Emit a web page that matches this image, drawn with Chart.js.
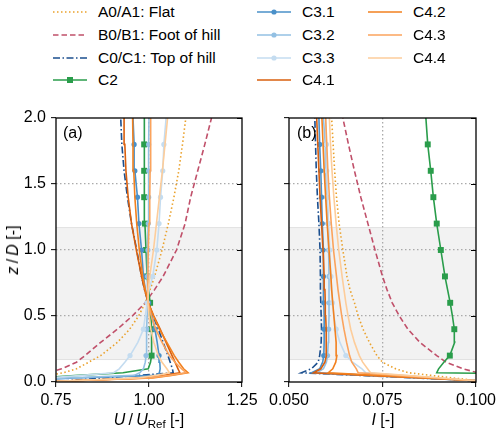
<!DOCTYPE html>
<html>
<head>
<meta charset="utf-8">
<script src="https://cdn.jsdelivr.net/npm/chart.js@4.4.1/dist/chart.umd.min.js"></script>
<style>
  body { margin: 0; background: #fff; font-family: "Liberation Sans", Arial, sans-serif; color: #000; }
  #wrap { position: relative; width: 500px; height: 432px; overflow: hidden; }
  canvas { position: absolute; }
  .lg { position: absolute; font-size: 15.5px; line-height: 18px; white-space: nowrap; }
  .lg svg { position: absolute; top: 4px; }
  .txt { position: absolute; font-size: 16px; white-space: nowrap; }
  .txt sub { font-size: 11.5px; vertical-align: -3px; }
</style>
</head>
<body>
<div id="wrap">
  <canvas id="chartA" width="270" height="332" style="left:0;top:100px"></canvas>
  <canvas id="chartB" width="250" height="332" style="left:250px;top:100px"></canvas>
  <div class="txt" style="left:63px;top:124px">(a)</div>
  <div class="txt" style="left:297px;top:124px">(b)</div>
  <div class="txt" style="left:13px;top:250px;transform:translate(-50%,-50%) rotate(-90deg)"><i>z</i>&thinsp;/&thinsp;<i>D</i> [-]</div>
  <div class="txt" style="left:149px;top:420px;transform:translate(-50%,-50%)"><i>U</i>&thinsp;/&thinsp;<i>U</i><sub>Ref</sub> [-]</div>
  <div class="txt" style="left:383px;top:420px;transform:translate(-50%,-50%)"><i>I</i> [-]</div>
  <div id="legend"></div>
</div>
<script>
// heights z/D shared by all profiles
const Z = [0, 0.03, 0.05, 0.07, 0.1, 0.15, 0.2, 0.3, 0.4, 0.5, 0.6, 0.7, 0.8, 1.0, 1.2, 1.4, 1.6, 1.8, 2.0];
const MARKER_Z = [0.2, 0.4, 0.6, 0.8, 1.0, 1.2, 1.4, 1.6, 1.8];
const ROTOR_Z = [0.17, 1.17];

const Z_TICKS = [0, 0.5, 1.0, 1.5, 2.0];
const U_TICKS = [0.75, 1.0, 1.25];
const I_TICKS = [0.05, 0.075, 0.1];

// (a) U/U_ref
const U_A0 = [0.55, 0.68, 0.73, 0.77, 0.805, 0.838, 0.87, 0.915, 0.948, 0.972, 0.99, 1.003, 1.015, 1.035, 1.052, 1.067, 1.08, 1.09, 1.099];
const U_B0 = [0.5, 0.64, 0.69, 0.73, 0.765, 0.805, 0.828, 0.87, 0.915, 0.955, 0.99, 1.015, 1.038, 1.074, 1.097, 1.112, 1.131, 1.15, 1.168];
const U_C0 = [0.73, 0.877, 0.97, 1.065, 1.063, 1.057, 1.051, 1.038, 1.025, 1.011, 0.998, 0.988, 0.98, 0.967, 0.953, 0.942, 0.933, 0.927, 0.924];
const U_C2 = [0.52, 0.69, 0.81, 0.93, 0.998, 1.004, 1.007, 1.007, 1.007, 1.005, 1.003, 0.999, 0.995, 0.992, 0.989, 0.987, 0.987, 0.987, 0.989];
const U_C31 = [0.55, 0.80, 1.02, 1.028, 1.03, 1.029, 1.027, 1.022, 1.016, 1.008, 0.999, 0.99, 0.985, 0.98, 0.973, 0.969, 0.962, 0.96, 0.957];
const U_C32 = [0.5, 0.78, 0.96, 0.975, 0.985, 0.99, 0.992, 0.993, 0.994, 0.995, 0.995, 0.995, 0.996, 0.997, 0.998, 0.999, 0.999, 0.999, 1.0];
const U_C33 = [0.5, 0.72, 0.82, 0.905, 0.92, 0.935, 0.949, 0.97, 0.985, 0.99, 0.995, 1.0, 1.01, 1.021, 1.027, 1.031, 1.037, 1.04, 1.046];
const U_C41 = [0.70, 0.99, 1.04, 1.083, 1.078, 1.07, 1.062, 1.046, 1.03, 1.013, 0.998, 0.988, 0.98, 0.966, 0.953, 0.944, 0.938, 0.935, 0.933];
const U_C42 = [0.70, 1.01, 1.06, 1.105, 1.093, 1.08, 1.068, 1.048, 1.028, 1.012, 0.998, 0.99, 0.983, 0.974, 0.967, 0.962, 0.959, 0.957, 0.956];
const U_C43 = [0.70, 1.0, 1.055, 1.10, 1.088, 1.07, 1.055, 1.035, 1.018, 1.006, 0.998, 0.997, 0.997, 0.998, 1.0, 1.002, 1.003, 1.004, 1.005];
const U_C44 = [0.70, 0.97, 1.02, 1.055, 1.048, 1.035, 1.025, 1.013, 1.005, 1.0, 0.997, 0.998, 1.002, 1.012, 1.02, 1.028, 1.036, 1.043, 1.05];

// (b) turbulence intensity I
const I_A0 = [0.104, 0.094, 0.088, 0.082, 0.0785, 0.075, 0.0735, 0.0715, 0.0698, 0.0685, 0.0675, 0.0663, 0.0655, 0.0644, 0.0634, 0.0627, 0.0622, 0.0618, 0.0614];
const I_B0 = [0.13, 0.118, 0.107, 0.1005, 0.0965, 0.092, 0.0895, 0.085, 0.0818, 0.0795, 0.0776, 0.0762, 0.075, 0.073, 0.0711, 0.0692, 0.0675, 0.0659, 0.0644];
const I_C0 = [0.1078, 0.0844, 0.0689, 0.0533, 0.056, 0.0578, 0.0582, 0.0586, 0.0587, 0.0586, 0.0585, 0.0584, 0.0584, 0.0583, 0.058, 0.0576, 0.0573, 0.0571, 0.0569];
const I_C2 = [0.18, 0.16, 0.14, 0.0895, 0.090, 0.0914, 0.093, 0.0943, 0.0942, 0.0937, 0.0931, 0.0924, 0.0917, 0.0906, 0.0895, 0.0886, 0.0879, 0.0871, 0.0866];
const I_C31 = [0.1073, 0.0853, 0.0707, 0.056, 0.0582, 0.059, 0.0593, 0.0594, 0.0594, 0.0594, 0.0593, 0.0593, 0.0592, 0.0591, 0.0589, 0.0587, 0.0585, 0.0582, 0.058];
const I_C32 = [0.107, 0.0858, 0.0717, 0.0575, 0.0592, 0.06, 0.0603, 0.0605, 0.0606, 0.0607, 0.0607, 0.0607, 0.0607, 0.0606, 0.0604, 0.0601, 0.0598, 0.0597, 0.0592];
const I_C33 = [0.1048, 0.0901, 0.0803, 0.0705, 0.0695, 0.067, 0.0652, 0.0636, 0.0626, 0.062, 0.0616, 0.0614, 0.0612, 0.0609, 0.0606, 0.0603, 0.0601, 0.06, 0.0598];
const I_C41 = [0.1072, 0.0855, 0.0711, 0.0566, 0.0585, 0.0596, 0.06, 0.06, 0.0599, 0.0598, 0.0597, 0.0596, 0.0594, 0.0591, 0.0587, 0.0583, 0.058, 0.0577, 0.0574];
const I_C42 = [0.1066, 0.0868, 0.0737, 0.0605, 0.0617, 0.0625, 0.0628, 0.0626, 0.0623, 0.062, 0.0617, 0.0614, 0.0612, 0.0607, 0.0602, 0.0598, 0.0594, 0.0591, 0.0588];
const I_C43 = [0.1052, 0.0895, 0.079, 0.0685, 0.068, 0.0668, 0.0662, 0.0654, 0.0647, 0.0641, 0.0636, 0.0631, 0.0627, 0.0619, 0.0613, 0.0608, 0.0604, 0.0601, 0.0598];
const I_C44 = [0.1047, 0.0906, 0.0812, 0.0718, 0.071, 0.0697, 0.0688, 0.0675, 0.0665, 0.0658, 0.0652, 0.0647, 0.0642, 0.0633, 0.0626, 0.062, 0.0615, 0.0611, 0.0608];

const SERIES = [
  { label: "A0/A1: Flat", u: U_A0, i: I_A0, color: "#eaa12b", dash: "dotted" },
  { label: "B0/B1: Foot of hill", u: U_B0, i: I_B0, color: "#c0506a", dash: "dashed" },
  { label: "C0/C1: Top of hill", u: U_C0, i: I_C0, color: "#1b4f8f", dash: "dashdot" },
  { label: "C2", u: U_C2, i: I_C2, color: "#2a9d4b", dash: "solid", marker: "rect" },
  { label: "C3.1", u: U_C31, i: I_C31, color: "#4a90c9", dash: "solid", marker: "circle" },
  { label: "C3.2", u: U_C32, i: I_C32, color: "#93c0e3", dash: "solid", marker: "circle" },
  { label: "C3.3", u: U_C33, i: I_C33, color: "#c4dcf0", dash: "solid", marker: "circle" },
  { label: "C4.1", u: U_C41, i: I_C41, color: "#d95f0e", dash: "solid" },
  { label: "C4.2", u: U_C42, i: I_C42, color: "#f2811f", dash: "solid" },
  { label: "C4.3", u: U_C43, i: I_C43, color: "#fba35c", dash: "solid" },
  { label: "C4.4", u: U_C44, i: I_C44, color: "#fdcd9b", dash: "solid" },
];

const DASH = { dotted: [1.5, 2.5], dashed: [5.5, 3], dashdot: [7, 2.5, 1.5, 2.5], solid: [] };

Chart.defaults.font.family = "'Liberation Sans', Arial, sans-serif";
Chart.defaults.font.size = 16;
Chart.defaults.color = "#000";

const isMarker = (z) => MARKER_Z.some(m => Math.abs(m - z) < 1e-9);

function makeDatasets(key) {
  // later series drawn on top, like the plotting order of the original
  return SERIES.map((s, k) => ({
    label: s.label,
    data: Z.map((z, j) => ({ x: s[key][j], y: z })),
    showLine: true,
    borderColor: s.color,
    backgroundColor: s.color,
    borderWidth: 1.6,
    borderDash: DASH[s.dash],
    tension: 0,
    order: SERIES.length - k,
    pointStyle: s.marker || "circle",
    pointRadius: s.marker ? (c => isMarker(c.raw.y) ? (s.marker === "rect" ? 4.2 : 2.6) : 0) : 0,
    pointBorderWidth: 0,
    pointBackgroundColor: s.color,
    clip: 0,
  }));
}

const frame = {
  id: "frame",
  beforeDraw(chart) {
    const { ctx, chartArea: a, scales } = chart;
    const y1 = scales.y.getPixelForValue(ROTOR_Z[1]);
    const y0 = scales.y.getPixelForValue(ROTOR_Z[0]);
    ctx.save();
    ctx.fillStyle = "#f2f2f2";
    ctx.fillRect(a.left, y1, a.right - a.left, y0 - y1);
    ctx.strokeStyle = "#e2e2e2";
    ctx.lineWidth = 1;
    ctx.beginPath();
    ctx.moveTo(a.left, y1); ctx.lineTo(a.right, y1);
    ctx.moveTo(a.left, y0); ctx.lineTo(a.right, y0);
    ctx.stroke();
    ctx.restore();
  },
  afterDraw(chart) {
    const { ctx, chartArea: a, scales } = chart;
    ctx.save();
    ctx.strokeStyle = "#000";
    ctx.lineWidth = 1;
    ctx.beginPath();
    Z_TICKS.forEach(v => {
      const y = Math.round(scales.y.getPixelForValue(v)) + 0.5;
      ctx.moveTo(a.right - 5, y); ctx.lineTo(a.right, y);
    });
    ctx.stroke();
    ctx.lineWidth = 1.3;
    ctx.strokeRect(a.left, a.top, a.right - a.left, a.bottom - a.top);
    ctx.restore();
  }
};

function makeChart(id, key, xmin, xmax, xticks, digits, gridAt, showYLabels, leftW, rightPad) {
  const fixScale = (w, h) => (scale) => {
    if (w != null) scale.width = w;
    if (h != null) scale.height = h;
    scale.paddingLeft = 0; scale.paddingRight = 0;
    scale.paddingTop = 0; scale.paddingBottom = 0;
  };
  return new Chart(document.getElementById(id), {
    type: "scatter",
    data: { datasets: makeDatasets(key) },
    plugins: [frame],
    options: {
      responsive: false,
      animation: false,
      events: [],
      layout: { padding: { top: 18, right: rightPad, left: 0, bottom: 0 } },
      plugins: { legend: { display: false }, tooltip: { enabled: false } },
      scales: {
        x: {
          type: "linear", min: xmin, max: xmax,
          afterBuildTicks: (s) => { s.ticks = xticks.map(v => ({ value: v })); },
          afterFit: fixScale(null, 50),
          ticks: { padding: 4, maxRotation: 0, autoSkip: false, callback: v => v.toFixed(digits) },
          grid: {
            color: c => (c.tick && Math.abs(c.tick.value - gridAt) < 1e-9) ? "#aaaaaa" : "rgba(0,0,0,0)",
            lineWidth: 1.3, tickLength: 5, tickColor: "#000", tickWidth: 1,
          },
          border: { display: false, dash: [1.5, 2.5] },
        },
        y: {
          type: "linear", min: 0, max: 2,
          afterBuildTicks: (s) => { s.ticks = Z_TICKS.map(v => ({ value: v })); },
          afterFit: fixScale(leftW, null),
          ticks: { display: showYLabels, padding: 5, autoSkip: false, callback: v => v.toFixed(1) },
          grid: {
            color: c => (c.tick && c.tick.value > 0.01 && c.tick.value < 1.99) ? "#aaaaaa" : "rgba(0,0,0,0)",
            lineWidth: 1.3, tickLength: 5, tickColor: "#000", tickWidth: 1,
          },
          border: { display: false, dash: [1.5, 2.5] },
        },
      },
    },
  });
}

makeChart("chartA", "u", 0.75, 1.25, U_TICKS, 2, 1.0, true, 56, 28);
makeChart("chartB", "i", 0.05, 0.1, I_TICKS, 3, 0.075, false, 39, 24);

// legend, column-major like matplotlib (4 rows)
const LEG_X = [53, 257, 368];
const LEG_Y = [12, 35, 58, 80];
const legend = document.getElementById("legend");
SERIES.forEach((s, k) => {
  const col = Math.floor(k / 4), row = k % 4;
  const d = document.createElement("div");
  d.className = "lg";
  d.style.left = LEG_X[col] + "px";
  d.style.top = (LEG_Y[row] - 9) + "px";
  let mk = "";
  if (s.marker === "rect") mk = `<rect x="14" y="2" width="6" height="6" fill="${s.color}"/>`;
  if (s.marker === "circle") mk = `<circle cx="17" cy="5" r="2.6" fill="${s.color}"/>`;
  const da = DASH[s.dash].length ? `stroke-dasharray="${DASH[s.dash].join(",")}"` : "";
  d.innerHTML = `<svg width="34" height="10" style="left:0"><line x1="0" y1="5" x2="34" y2="5" stroke="${s.color}" stroke-width="1.6" ${da}/>${mk}</svg>` +
    `<span style="position:absolute;left:45px;top:0">${s.label}</span>`;
  legend.appendChild(d);
});
</script>
</body>
</html>
